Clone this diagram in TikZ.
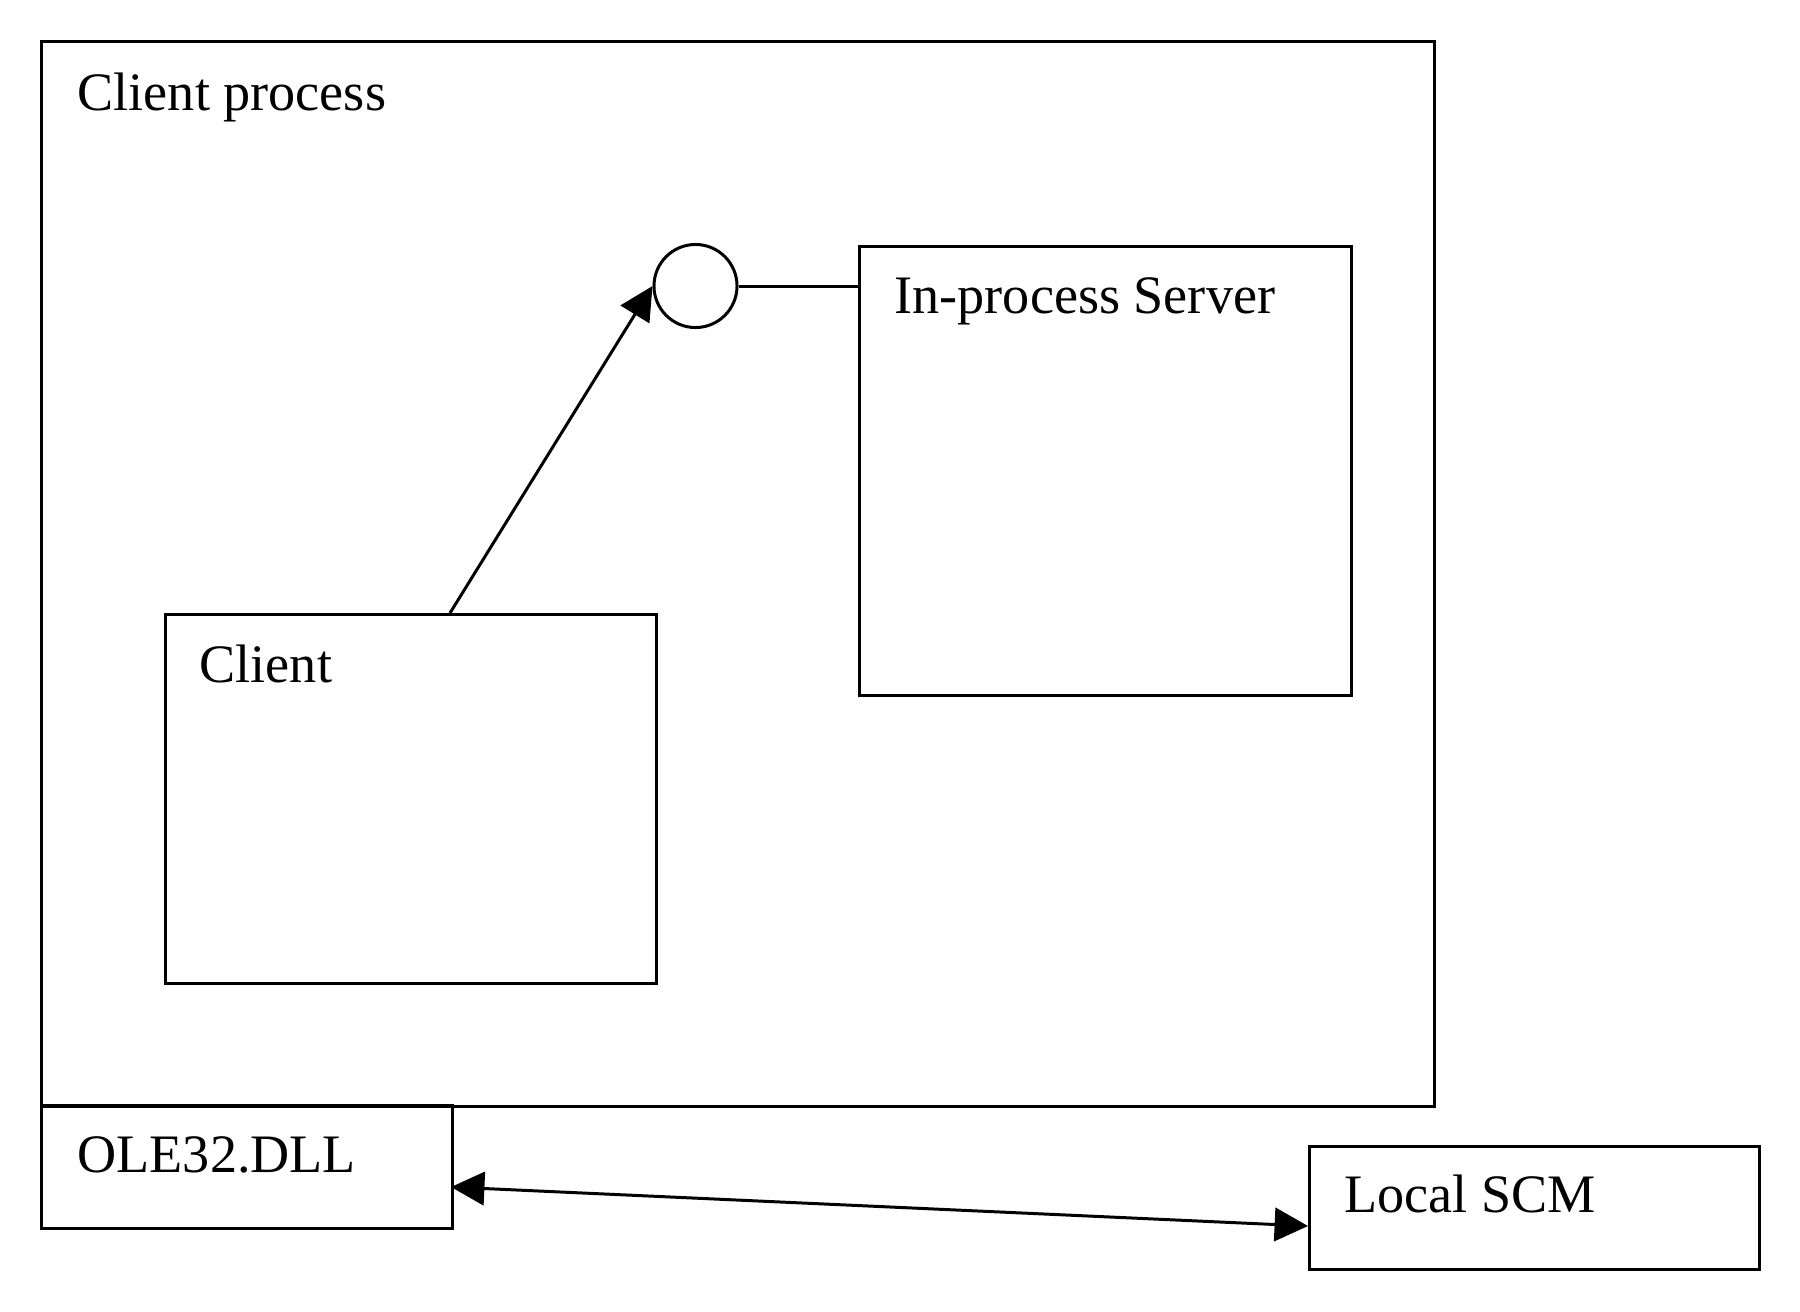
\documentclass[tikz,border=0pt]{standalone}
\usepackage{fontspec}
\setmainfont{Liberation Serif}
\usetikzlibrary{arrows.meta}
\begin{document}
\begin{tikzpicture}[x=0.01cm,y=-0.01cm,
  box/.style={draw,line width=0.85pt,rectangle,anchor=north west,inner sep=0pt},
  lbl/.style={anchor=base west,inner sep=0pt,font=\fontsize{15.4}{18}\selectfont},
  conn/.style={line width=0.85pt},
  tip/.style={-{Triangle[length=9.5pt,width=9.5pt]}}]
\useasboundingbox (0,0) rectangle (1800,1311);
\node[box,minimum width=13.92cm,minimum height=10.64cm] (proc) at (40,40) {};
\node[box,minimum width=4.11cm,minimum height=1.23cm] (ole) at (40,1104) {};
\node[box,minimum width=4.50cm,minimum height=1.23cm] (scm) at (1308,1145) {};
\node[box,minimum width=4.92cm,minimum height=4.49cm] (srv) at (858,245) {};
\node[box,minimum width=4.91cm,minimum height=3.69cm] (cli) at (164,613) {};
\node[draw,line width=0.85pt,circle,minimum size=0.83cm,inner sep=0pt] (itf) at (695.5,286) {};
\node[lbl] (tproc) at (77,110) {Client process};
\node[lbl] (tsrv) at (894,313) {In-process Server};
\node[lbl] (tcli) at (199,682) {Client};
\node[lbl] (tole) at (77,1172) {OLE32.DLL};
\node[lbl] (tscm) at (1344,1212) {Local SCM};
\draw[conn] (itf.east) -- (itf.east -| srv.west);
\coordinate (cstart) at (450,613);
\draw[conn,tip] (cstart) -- (itf.west);
\coordinate (oa) at (451,1187);
\coordinate (sa) at (1308,1226);
\draw[conn,{Triangle[length=9.5pt,width=9.5pt]}-{Triangle[length=9.5pt,width=9.5pt]}] (oa) -- (sa);
\end{tikzpicture}
\end{document}
